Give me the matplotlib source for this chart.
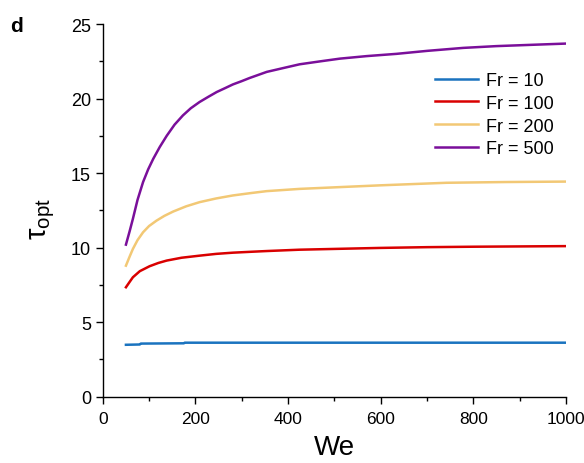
import matplotlib
matplotlib.use("Agg")
import matplotlib.pyplot as plt
from matplotlib.ticker import MultipleLocator

plt.rcParams['font.family'] = ['Liberation Sans', 'DejaVu Sans']
plt.rcParams['mathtext.fontset'] = 'custom'
plt.rcParams['mathtext.rm'] = 'Liberation Sans'
plt.rcParams['mathtext.it'] = 'Liberation Sans:italic'

# values
we_10 = [50, 80, 82, 175, 177, 400, 600, 800, 1000]
tau_10 = [3.48, 3.50, 3.56, 3.58, 3.62, 3.62, 3.62, 3.62, 3.62]

we_100 = [50, 58, 65, 80, 101, 120, 138, 170, 209, 245, 281, 320, 354, 425, 512, 600, 700, 800, 900, 1000]
tau_100 = [7.34, 7.7, 8.01, 8.42, 8.75, 8.97, 9.13, 9.32, 9.46, 9.58, 9.66, 9.72, 9.77, 9.86, 9.92, 9.98, 10.03, 10.06, 10.08, 10.1]

we_200 = [50, 58, 65, 75, 87, 100, 116, 133, 152, 180, 209, 245, 281, 320, 354, 425, 512, 600, 742, 870, 1000]
tau_200 = [8.79, 9.4, 9.91, 10.5, 11.03, 11.45, 11.81, 12.13, 12.42, 12.77, 13.05, 13.3, 13.5, 13.66, 13.79, 13.94, 14.06, 14.18, 14.35, 14.4, 14.43]

we_500 = [50, 58, 65, 75, 87, 98, 109, 123, 138, 155, 173, 190, 209, 228, 246, 264, 281, 300, 317, 354, 390, 425, 470, 512, 570, 634, 700, 778, 850, 920, 1000]
tau_500 = [10.2, 11.1, 11.93, 13.2, 14.4, 15.25, 15.96, 16.75, 17.5, 18.25, 18.87, 19.35, 19.77, 20.12, 20.44, 20.7, 20.95, 21.17, 21.38, 21.79, 22.05, 22.3, 22.5, 22.68, 22.85, 23.0, 23.2, 23.4, 23.52, 23.6, 23.69]

labels = ['Fr = 10', 'Fr = 100', 'Fr = 200', 'Fr = 500']
colors = ['#1a73bf', '#d90000', '#f2c875', '#7a0f9a']

fig = plt.figure(figsize=(5.84, 4.64), dpi=100)
ax = fig.add_axes([0.176, 0.143, 0.793, 0.803])

series = [(we_10, tau_10), (we_100, tau_100), (we_200, tau_200), (we_500, tau_500)]
for (x, y), lab, c in zip(series, labels, colors):
    ax.plot(x, y, color=c, lw=1.8, label=lab)

ax.set_xlim(0, 1000)
ax.set_ylim(0, 25)
ax.xaxis.set_major_locator(MultipleLocator(200))
ax.xaxis.set_minor_locator(MultipleLocator(100))
ax.yaxis.set_major_locator(MultipleLocator(5))
ax.yaxis.set_minor_locator(MultipleLocator(2.5))

for s in ['top', 'right']:
    ax.spines[s].set_visible(False)
for s in ['left', 'bottom']:
    ax.spines[s].set_linewidth(1.0)

ax.tick_params(which='major', direction='out', length=5, width=1, labelsize=13)
ax.tick_params(axis='x', which='major', pad=5, labelsize=12.5)
ax.tick_params(which='minor', direction='out', length=3, width=1)

ax.set_xlabel('We', fontsize=20, labelpad=6)
ax.set_ylabel('τ$_{\\mathrm{opt}}$', fontsize=21)
ax.yaxis.set_label_coords(-0.099, 0.48)

ax.legend(loc='upper right', bbox_to_anchor=(1.008, 0.915), frameon=False,
          fontsize=13, handlelength=2.4, handletextpad=0.4, labelspacing=0.32)

fig.text(0.018, 0.93, 'd', fontsize=15, fontweight='bold')

fig.savefig('out.png', dpi=100)
